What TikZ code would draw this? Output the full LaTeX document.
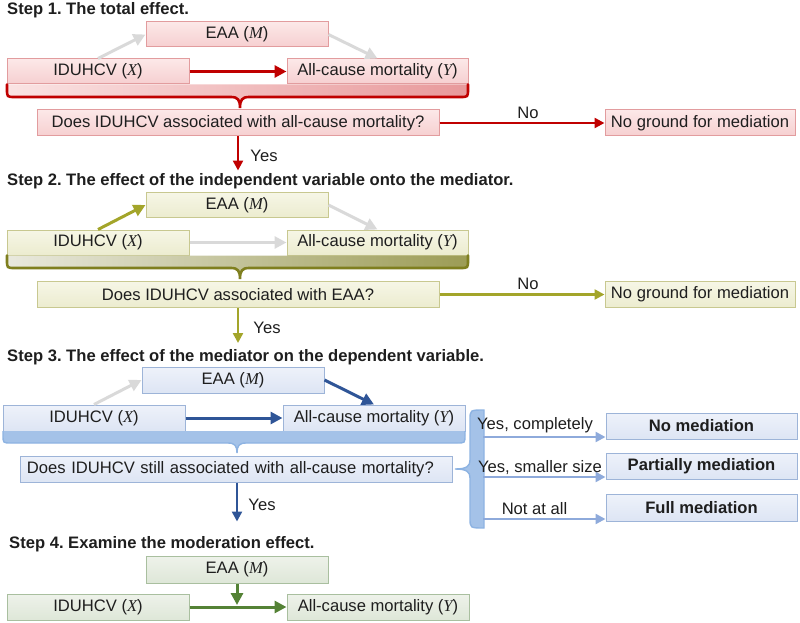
\documentclass[tikz,border=0pt]{standalone}
\usepackage{fontspec}
\setmainfont{Liberation Sans}
\newfontfamily\varfont{Liberation Serif}
\usetikzlibrary{arrows.meta,calc}
\frenchspacing
\newcommand{\V}[1]{({\varfont\itshape #1})}
\definecolor{txt}{HTML}{1E1E1E}
\definecolor{grayA}{HTML}{D9D9D9}
% red
\definecolor{redT}{HTML}{FCE8E8}
\definecolor{redB}{HTML}{F6CFD0}
\definecolor{redD}{HTML}{E29C9E}
\definecolor{redA}{HTML}{C00000}
\definecolor{redL}{HTML}{FAE3E3}
\definecolor{redR}{HTML}{E8999B}
% olive
\definecolor{olT}{HTML}{F6F6E6}
\definecolor{olB}{HTML}{ECECCF}
\definecolor{olD}{HTML}{C8C890}
\definecolor{olA}{HTML}{A3A52A}
\definecolor{olBr}{HTML}{7F7F1F}
\definecolor{olL}{HTML}{E9E9DE}
\definecolor{olR}{HTML}{9C9C55}
% blue
\definecolor{blT}{HTML}{EEF2FA}
\definecolor{blB}{HTML}{DDE5F4}
\definecolor{blD}{HTML}{9DB4D8}
\definecolor{blA}{HTML}{2F5597}
\definecolor{blF}{HTML}{A4C2E8}
\definecolor{blO}{HTML}{8DB3E2}
\definecolor{blR}{HTML}{8EAADB}
% green
\definecolor{grT}{HTML}{EEF2EA}
\definecolor{grB}{HTML}{DEE7D8}
\definecolor{grD}{HTML}{A9BF9F}
\definecolor{grA}{HTML}{548235}

\newcommand{\hbrace}[8]{%
  \path[#7] (#1,#3) -- (#1,#4-8) .. controls (#1,#4) .. (#1+8,#4) -- (#5-9,#4)
    .. controls (#5-2,#4) and (#5,#4+3) .. (#5,#6)
    .. controls (#5,#4+3) and (#5+2,#4) .. (#5+9,#4) -- (#2-8,#4)
    .. controls (#2,#4) .. (#2,#4-8) -- (#2,#3) -- cycle;
  \draw[#8] (#1,#3) -- (#1,#4-8) .. controls (#1,#4) .. (#1+8,#4) -- (#5-9,#4)
    .. controls (#5-2,#4) and (#5,#4+3) .. (#5,#6)
    .. controls (#5,#4+3) and (#5+2,#4) .. (#5+9,#4) -- (#2-8,#4)
    .. controls (#2,#4) .. (#2,#4-8) -- (#2,#3);}

\begin{document}
\begin{tikzpicture}[x=1pt,y=-1pt,
  font=\fontsize{16.6}{19}\selectfont, text=txt,
  box/.style={draw, line width=1pt, inner sep=0pt, minimum height=25pt, text=txt},
  redbox/.style={box, draw=redD, top color=redT, bottom color=redB},
  olbox/.style={box, draw=olD, top color=olT, bottom color=olB},
  blbox/.style={box, draw=blD, top color=blT, bottom color=blB},
  grbox/.style={box, draw=grD, top color=grT, bottom color=grB},
  title/.style={anchor=base west, font=\fontsize{16.6}{19}\selectfont\bfseries, inner sep=0pt},
  lbl/.style={inner sep=0pt},
  arr/.style={line width=3pt, -{Triangle[length=12pt,width=12pt]}},
  thin arr/.style={line width=2.4pt, -{Triangle[length=10pt,width=10pt]}},
]
\useasboundingbox (0,0) rectangle (800,623);

% ---------------- Step 1 ----------------
\node[title] (t1) at (7,15) {Step 1. The total effect.};
\node[redbox, minimum width=182pt] (M1) at (237,34.5) {EAA \V{M}};
\node[redbox, minimum width=182pt] (X1) at (98,71.5) {IDUHCV \V{X}};
\node[redbox, minimum width=181pt] (Y1) at (377.5,71.5) {All-cause mortality \V{Y}};
\hbrace{7}{468}{84.5}{97}{240}{108}{left color=redL,right color=redR}{redA,line width=2.6pt,line cap=round}
\node[redbox, minimum width=402pt, minimum height=26pt] (Q1) at (238,123) {Does IDUHCV associated with all-cause mortality?};
\node[redbox, minimum width=190pt, minimum height=26pt] (N1) at (700,123) {No ground for mediation};
\draw[arr, grayA] (X1.north) -- (M1.west);
\draw[arr, grayA] (M1.east) -- (Y1.north);
\draw[arr, redA] (X1.east) -- (Y1.west);
\draw[thin arr, redA] (Q1.east) -- (N1.west);
\node[lbl] (no1) at (528,113) {No};
\coordinate (e1) at ($(Q1.south)+(0,34)$);
\draw[thin arr, redA] (Q1.south) -- (e1);
\node[lbl] (y1) at (264,156) {Yes};

% ---------------- Step 2 ----------------
\node[title] (t2) at (7,185) {Step 2. The effect of the independent variable onto the mediator.};
\node[olbox, minimum width=182pt] (M2) at (237,205) {EAA \V{M}};
\node[olbox, minimum width=182pt] (X2) at (98,242.5) {IDUHCV \V{X}};
\node[olbox, minimum width=181pt] (Y2) at (377.5,242.5) {All-cause mortality \V{Y}};
\hbrace{7}{468}{255.5}{268}{240}{279}{left color=olL,right color=olR}{olBr,line width=2.6pt,line cap=round}
\node[olbox, minimum width=402pt, minimum height=26pt] (Q2) at (238,294.5) {Does IDUHCV associated with EAA?};
\node[olbox, minimum width=190pt, minimum height=26pt] (N2) at (700,294.5) {No ground for mediation};
\draw[arr, olA] (X2.north) -- (M2.west);
\draw[arr, grayA] (M2.east) -- (Y2.north);
\draw[arr, grayA] (X2.east) -- (Y2.west);
\draw[thin arr, olA] (Q2.east) -- (N2.west);
\node[lbl] (no2) at (528,284) {No};
\coordinate (e2) at ($(Q2.south)+(0,35)$);
\draw[thin arr, olA] (Q2.south) -- (e2);
\node[lbl] (y2) at (267,328) {Yes};

% ---------------- Step 3 ----------------
\node[title] (t3) at (7,361.5) {Step 3. The effect of the mediator on the dependent variable.};
\node[blbox, minimum width=182pt, minimum height=26pt] (M3) at (233,380) {EAA \V{M}};
\node[blbox, minimum width=182pt, minimum height=26pt] (X3) at (94,418) {IDUHCV \V{X}};
\node[blbox, minimum width=182pt, minimum height=26pt] (Y3) at (374,418) {All-cause mortality \V{Y}};
\hbrace{3}{465}{431}{443}{237}{453}{fill=blF}{blO,line width=1.4pt}
\node[blbox, minimum height=26pt, text width=418pt, align=left, inner xsep=7pt] (Q3) at (236,469) {Does IDUHCV still associated with all-cause mortality?};
\draw[arr, grayA] (X3.north) -- (M3.west);
\draw[arr, blA] (M3.east) -- (Y3.north);
\draw[arr, blA] (X3.east) -- (Y3.west);
\coordinate (e3) at ($(Q3.south)+(1,39)$);
\coordinate (s3) at ($(Q3.south)+(1,0)$);
\draw[thin arr, blA] (s3) -- (e3);
\node[lbl] (y3) at (262,505) {Yes};
% right brace
\path[fill=blF, draw=blO, line width=1.4pt]
  (484,410) .. controls (470,410) .. (470,420) -- (470,460)
  .. controls (470,466) and (467,469) .. (455,469)
  .. controls (467,469) and (470,472) .. (470,478) -- (470,518)
  .. controls (470,528) .. (484,528) -- cycle;
\node[blbox, minimum width=191pt, minimum height=26pt, font=\fontsize{16.6}{19}\selectfont\bfseries] (R1) at (701.5,426) {No mediation};
\node[blbox, minimum width=191pt, minimum height=26pt, font=\fontsize{16.6}{19}\selectfont\bfseries] (R2) at (701.5,466) {Partially mediation};
\node[blbox, minimum width=191pt, minimum height=27pt, font=\fontsize{16.6}{19}\selectfont\bfseries] (R3) at (701.5,507.5) {Full mediation};
\coordinate (b1) at (483,437);
\coordinate (b2) at (483,477);
\coordinate (b3) at (483,519);
\draw[thin arr, blR] (b1) -- (b1 -| R1.west);
\draw[thin arr, blR] (b2) -- (b2 -| R2.west);
\draw[thin arr, blR] (b3) -- (b3 -| R3.west);
\node[lbl] (l1) at (535,425) {Yes, completely};
\node[lbl] (l2) at (540,468) {Yes, smaller size};
\node[lbl] (l3) at (534.5,508.5) {Not at all};

% ---------------- Step 4 ----------------
\node[title] (t4) at (9,548) {Step 4. Examine the moderation effect.};
\node[grbox, minimum width=182pt, minimum height=27pt] (M4) at (237,569.5) {EAA \V{M}};
\node[grbox, minimum width=182pt, minimum height=26pt] (X4) at (98,607) {IDUHCV \V{X}};
\node[grbox, minimum width=182pt, minimum height=26pt] (Y4) at (378,607) {All-cause mortality \V{Y}};
\draw[arr, grA] (X4.east) -- (Y4.west);
\coordinate (j4) at (M4.south |- X4.east);
\draw[arr, grA] (M4.south) -- ($(j4)+(0,-2)$);
\end{tikzpicture}
\end{document}
